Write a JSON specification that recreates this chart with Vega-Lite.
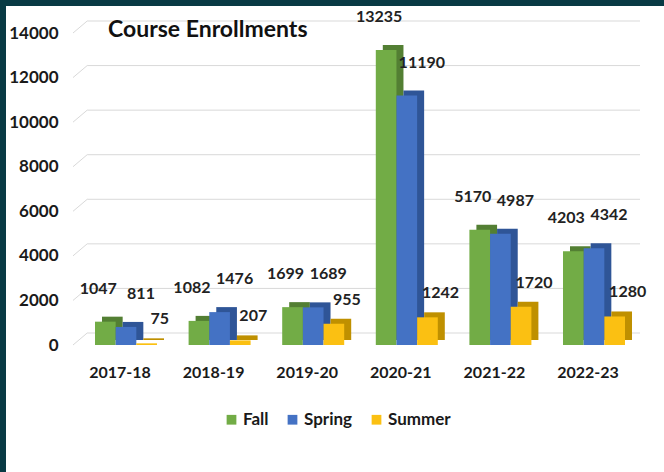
{
  "$schema": "https://vega.github.io/schema/vega-lite/v6.json",
  "width": 658,
  "height": 466,
  "autosize": {"type": "none"},
  "padding": {"left": 6, "top": 6, "right": 0, "bottom": 0},
  "background": "#083a44",
  "config": {
    "font": "Lato",
    "view": {"fill": "white", "stroke": null},
    "axisY": {"offset": -56, "domain": false, "ticks": false, "grid": false, "labelFontSize": 17, "labelFontWeight": "bold", "labelColor": "#1a1a1a", "labelPadding": 4, "labelFont": "Lato", "format": "d"},
    "axisX": {"offset": -110, "domain": false, "ticks": false, "grid": false, "labelFontSize": 16, "labelFontWeight": "bold", "labelColor": "#1a1a1a", "labelPadding": 2, "labelAngle": 0, "labelOffset": -6, "labelFont": "Lato"}
  },
  "title": {"text": "Course Enrollments", "anchor": "start", "frame": "group", "fontSize": 23, "fontWeight": "bold", "font": "Lato", "color": "#111111", "offset": 0, "baseline": "top", "dx": 102, "dy": 36},
  "datasets": {
    "enroll": [
      {"year": "2017-18", "season": "Fall", "value": 1047},
      {"year": "2017-18", "season": "Spring", "value": 811},
      {"year": "2017-18", "season": "Summer", "value": 75},
      {"year": "2018-19", "season": "Fall", "value": 1082},
      {"year": "2018-19", "season": "Spring", "value": 1476},
      {"year": "2018-19", "season": "Summer", "value": 207},
      {"year": "2019-20", "season": "Fall", "value": 1699},
      {"year": "2019-20", "season": "Spring", "value": 1689},
      {"year": "2019-20", "season": "Summer", "value": 955},
      {"year": "2020-21", "season": "Fall", "value": 13235},
      {"year": "2020-21", "season": "Spring", "value": 11190},
      {"year": "2020-21", "season": "Summer", "value": 1242},
      {"year": "2021-22", "season": "Fall", "value": 5170},
      {"year": "2021-22", "season": "Spring", "value": 4987},
      {"year": "2021-22", "season": "Summer", "value": 1720},
      {"year": "2022-23", "season": "Fall", "value": 4203},
      {"year": "2022-23", "season": "Spring", "value": 4342},
      {"year": "2022-23", "season": "Summer", "value": 1280}
    ],
    "grid": [
      {"v": 0}, {"v": 2000}, {"v": 4000}, {"v": 6000}, {"v": 8000}, {"v": 10000}, {"v": 12000}, {"v": 14000}
    ]
  },
  "layer": [
    {
      "data": {"name": "grid"},
      "layer": [
        {
          "mark": {"type": "rule", "color": "#d9d9d9", "strokeWidth": 1, "y2Offset": -12},
          "encoding": {
            "x": {"datum": 0, "type": "quantitative", "scale": {"domain": [0, 100], "range": [67, 634], "nice": false, "zero": false}, "axis": null},
            "x2": {"datum": 2.5},
            "y": {"field": "v", "type": "quantitative", "title": null, "scale": {"domain": [0, 14000], "range": [339, 27], "nice": false}, "axis": {"values": [0, 2000, 4000, 6000, 8000, 10000, 12000, 14000]}},
            "y2": {"field": "v"}
          }
        },
        {
          "mark": {"type": "rule", "color": "#d9d9d9", "strokeWidth": 1, "yOffset": -12},
          "encoding": {
            "x": {"datum": 2.5, "type": "quantitative", "axis": null},
            "x2": {"datum": 100},
            "y": {"field": "v", "type": "quantitative", "title": null}
          }
        }
      ]
    },
    {
      "data": {"name": "enroll"},
      "mark": {"type": "bar", "yOffset": -5},
      "encoding": {
        "x": {"field": "year", "type": "nominal", "sort": null, "title": null, "axis": null, "scale": {"range": [96, 626], "paddingInner": 0.3376, "paddingOuter": 0}},
        "xOffset": {"field": "season", "type": "nominal", "sort": ["Fall", "Spring", "Summer"], "scale": {"paddingInner": 0, "paddingOuter": 0}},
        "y": {"field": "value", "type": "quantitative", "title": null},
        "color": {"field": "season", "type": "nominal", "scale": {"domain": ["Fall", "Spring", "Summer"], "range": ["#537f33", "#2f5597", "#bf9000"]}, "legend": null}
      }
    },
    {
      "data": {"name": "enroll"},
      "encoding": {
        "x": {"field": "year", "type": "nominal", "sort": null, "title": null, "scale": {"range": [89, 619], "paddingInner": 0.3376, "paddingOuter": 0}},
        "xOffset": {"field": "season", "type": "nominal", "sort": ["Fall", "Spring", "Summer"], "scale": {"paddingInner": 0, "paddingOuter": 0}},
        "y": {"field": "value", "type": "quantitative", "title": null}
      },
      "layer": [
        {
          "mark": {"type": "bar"},
          "encoding": {
            "color": {"field": "season", "type": "nominal", "scale": {"domain": ["Fall", "Spring", "Summer"], "range": ["#72ac46", "#4472c4", "#fbc012"]},
              "legend": {"orient": "none", "legendX": 217, "legendY": 405, "direction": "horizontal", "title": null, "symbolType": "square", "symbolSize": 95, "symbolStrokeWidth": 0, "labelFontSize": 17, "labelFontWeight": "bold", "labelColor": "#1a1a1a", "labelFont": "Lato", "labelOffset": 3, "columnPadding": 15}}
          }
        },
        {
          "transform": [{"filter": "datum.season === 'Fall'"}],
          "mark": {"type": "text", "dy": -33, "dx": -7, "fontSize": 16, "fontWeight": "bold", "color": "#222222", "font": "Lato", "align": "center", "baseline": "middle"},
          "encoding": {"text": {"field": "value", "type": "quantitative", "format": "d"}}
        },
        {
          "transform": [{"filter": "datum.season === 'Spring'"}],
          "mark": {"type": "text", "dy": -33, "dx": 15, "fontSize": 16, "fontWeight": "bold", "color": "#222222", "font": "Lato", "align": "center", "baseline": "middle"},
          "encoding": {"text": {"field": "value", "type": "quantitative", "format": "d"}}
        },
        {
          "transform": [{"filter": "datum.season === 'Summer'"}],
          "mark": {"type": "text", "dy": -24, "dx": 13, "fontSize": 16, "fontWeight": "bold", "color": "#222222", "font": "Lato", "align": "center", "baseline": "middle"},
          "encoding": {"text": {"field": "value", "type": "quantitative", "format": "d"}}
        }
      ]
    }
  ],
  "resolve": {"scale": {"x": "independent", "xOffset": "independent", "color": "independent"}}
}
